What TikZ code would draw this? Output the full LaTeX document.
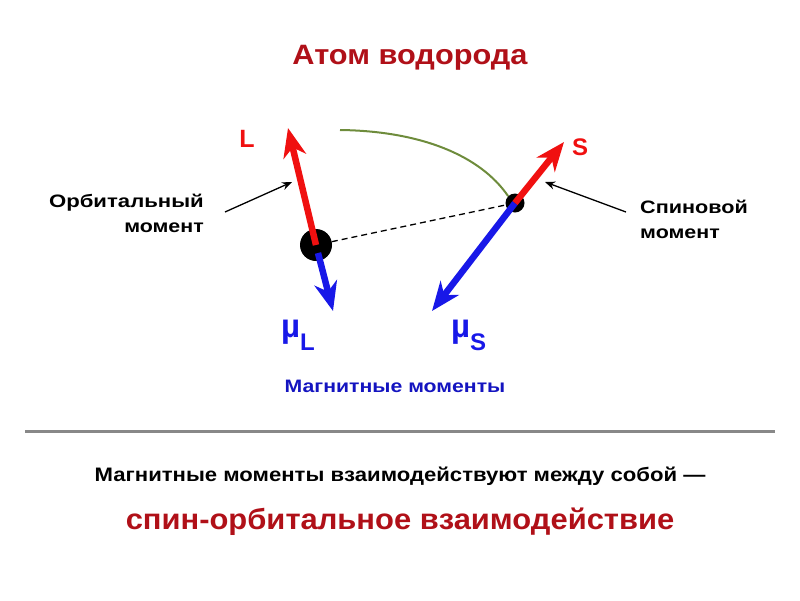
\documentclass[tikz,border=0pt]{standalone}
\usepackage{fontspec}
\setmainfont{Liberation Sans}
\usetikzlibrary{arrows.meta,calc}
\definecolor{titlered}{HTML}{B01018}
\definecolor{vecred}{HTML}{F01010}
\definecolor{vecblue}{HTML}{1818E8}
\definecolor{txtblue}{HTML}{1414C0}
\definecolor{orbitgreen}{HTML}{6E8C3C}
\definecolor{rulegray}{HTML}{888888}
\newcommand{\xs}[2]{\scalebox{#1}[1]{#2}}
\tikzset{
  fs/.style={font=\fontsize{#1}{#1}\selectfont\bfseries},
  vec/.style={line width=6.5pt,-{Stealth[length=29pt,width=23pt,inset=9pt]}},
  pointer/.style={line width=1.3pt,-{Stealth[length=10pt,width=8pt]}},
  particle/.style={circle,fill=black,inner sep=0pt},
  lbl/.style={inner sep=0pt},
}
\begin{document}
\begin{tikzpicture}[x=1pt,y=-1pt]
\useasboundingbox (0,0) rectangle (800,600);
% title
\node[lbl,fs=28,text=titlered,anchor=base] (title) at (410,64) {\xs{1.098}{Атом водорода}};
% particles
\node[particle,minimum size=32pt] (nuc) at (316,245) {};
\node[particle,minimum size=19pt] (el) at (515,203) {};
% orbit arc and dashed radius
\draw[orbitgreen,line width=2pt] (340,130) .. controls (420,131) and (480,155) .. (el.north west);
\draw[line width=1.3pt,dash pattern=on 6pt off 4pt] (nuc) -- (el);
% vectors
\coordinate (Ltip) at (288,128);
\coordinate (muLtip) at (333,311);
\coordinate (Stip) at (564,142);
\coordinate (muStip) at (432,311);
\draw[vec,vecblue] ($(nuc.center)+(2,8)$) -- (muLtip);
\draw[vec,vecred] (nuc.center) -- (Ltip);
\draw[vec,vecblue] (el.center) -- (muStip);
\draw[vec,vecred] (el.center) -- (Stip);
% vector labels
\node[lbl,fs=25,text=vecred,anchor=base] (L) at (247,147) {L};
\node[lbl,fs=24,text=vecred,anchor=base] (S) at (580,155) {S};
\node[lbl,fs=33,text=vecblue,anchor=base west] (muL) at (281,337) {µ\raisebox{-13pt}{\fontsize{24}{24}\selectfont L}};
\node[lbl,fs=33,text=vecblue,anchor=base west] (muS) at (451,337) {µ\raisebox{-13pt}{\fontsize{24}{24}\selectfont S}};
% side labels
\node[lbl,fs=18,anchor=base east] (orb) at (204,207) {\xs{1.23}{Орбитальный}};
\node[lbl,fs=18,anchor=base east] (orb2) at (204,232) {\xs{1.19}{момент}};
\node[lbl,fs=18,anchor=base west] (spin) at (640,213) {\xs{1.2}{Спиновой}};
\node[lbl,fs=18,anchor=base west] (spin2) at (640,238) {\xs{1.19}{момент}};
\coordinate (orbstart) at (225,212);
\coordinate (orbtip) at (292,182);
\coordinate (spinstart) at (626,212);
\coordinate (spintip) at (545,182);
\draw[pointer] (orbstart) -- (orbtip);
\draw[pointer] (spinstart) -- (spintip);
% magnetic moments caption
\node[lbl,fs=18,text=txtblue,anchor=base] (mag) at (395,392) {\xs{1.18}{Магнитные моменты}};
% rule
\coordinate (ruleL) at (25,431);
\coordinate (ruleR) at (775,431);
\draw[rulegray,line width=3pt] (ruleL) -- (ruleR);
% bottom text
\node[lbl,fs=19.5,anchor=base] (inter) at (400,481) {\xs{1.134}{Магнитные моменты взаимодействуют между собой —}};
\node[lbl,fs=29,text=titlered,anchor=base] (so) at (400,529) {\xs{1.066}{спин-орбитальное взаимодействие}};
\end{tikzpicture}
\end{document}
